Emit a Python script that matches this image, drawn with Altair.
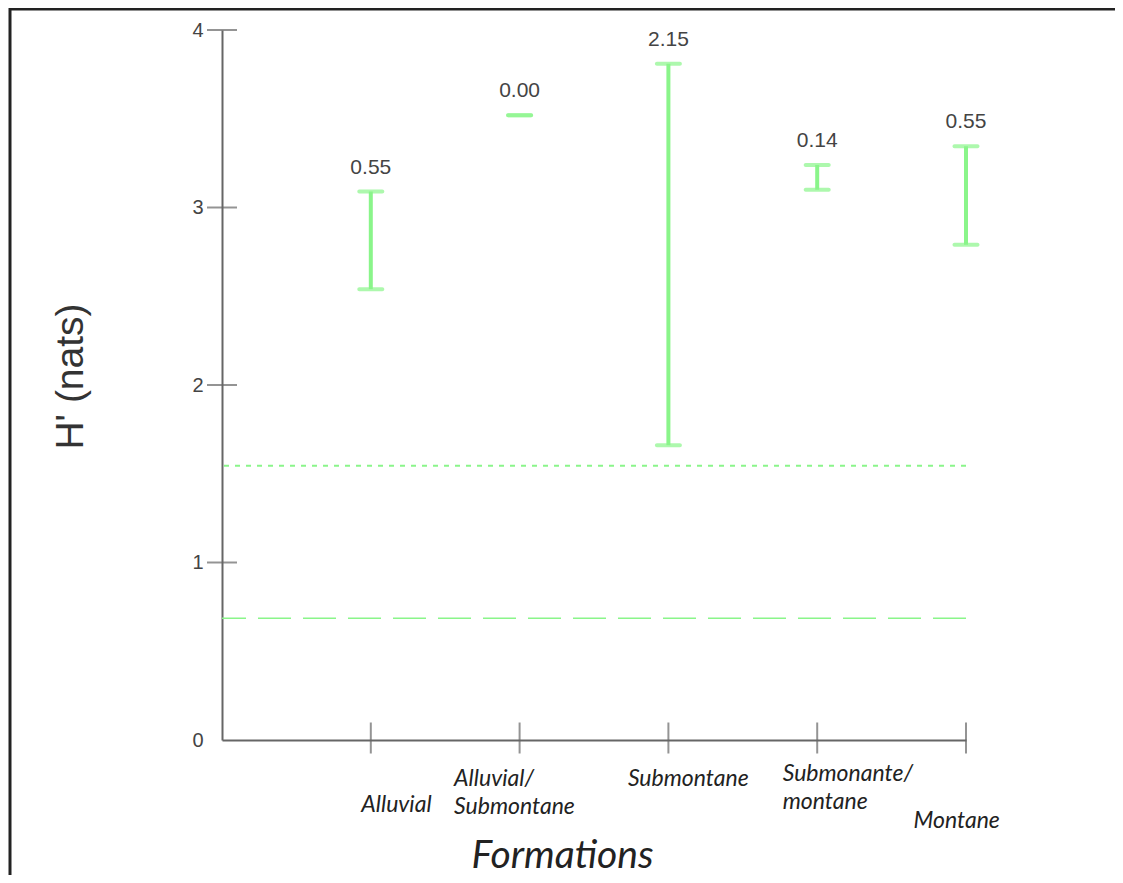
import json
import altair as alt
import pandas as pd

# ---- data ----
categories = ["Alluvial", "Alluvial/Submontane", "Submontane", "Submonante/montane", "Montane"]
lower = [2.54, 3.52, 1.66, 3.10, 2.79]
upper = [3.09, 3.52, 3.81, 3.24, 3.345]
range_labels = ["0.55", "0.00", "2.15", "0.14", "0.55"]
y_tick_values = [0, 1, 2, 3, 4]
ref_dotted = [1.545]
ref_dashed = [0.686]

positions = list(range(1, len(categories) + 1))
df = pd.DataFrame({"pos": positions, "cat": categories, "lo": lower, "hi": upper, "lab": range_labels})
df_dotted = pd.DataFrame({"v": ref_dotted})
df_dashed = pd.DataFrame({"v": ref_dashed})
df_yt = pd.DataFrame({"v": [v for v in y_tick_values if v > 0]})

# category labels as (multi-line) arrays for labelExpr
def split_label(s):
    if "/" in s:
        a, b = s.split("/", 1)
        return [a + "/", b]
    return s

label_list = json.dumps([split_label(c) for c in categories])

GREEN = "#8af58a"
AXIS = "#666666"
W, H = 744, 710

xscale = alt.Scale(domain=[0, 5], nice=False, zero=False)
yscale = alt.Scale(domain=[0, 4], nice=False, zero=True)

x_axis = alt.Axis(
    values=positions,
    labelExpr=f"{label_list}[datum.value - 1]",
    ticks=False,
    domainColor=AXIS,
    domainWidth=2,
    grid=False,
    labelAlign="left",
    labelBaseline="top",
    labelOffset={"expr": "[-10, -66, -41, -35, -53][datum.value - 1]"},
    labelPadding={"expr": "[53, 27, 27, 22, 69][datum.value - 1]"},
    labelFont="Lato",
    labelFontStyle="italic",
    labelFontSize=23,
    labelLineHeight=28,
    labelColor="#222",
    labelOverlap=False,
    labelFlush=False,
    labelBound=False,
    title="Formations",
    titleFont="Lato",
    titleFontStyle="italic",
    titleFontWeight="normal",
    titleFontSize=39,
    titleColor="#222",
    titleX=340,
    titleY=127,
    titleBaseline="alphabetic",
    titleAlign="center",
)

y_axis = alt.Axis(
    values=y_tick_values,
    format="d",
    ticks=False,
    domainColor=AXIS,
    domainWidth=2,
    grid=False,
    labelPadding=19,
    labelFont="Liberation Sans",
    labelFontSize=20,
    labelColor="#444",
    labelOverlap=False,
    title="H' (nats)",
    titleFont="Liberation Sans",
    titleFontWeight="normal",
    titleFontSize=39,
    titleColor="#333",
    titleX=-152,
    titleY=346,
    titleAngle=270,
    titleBaseline="middle",
    titleAlign="center",
)

base = alt.Chart(df)

bars = base.mark_rule(color=GREEN, strokeWidth=4).encode(
    x=alt.X("pos:Q", scale=xscale, axis=x_axis),
    y=alt.Y("lo:Q", scale=yscale, axis=y_axis),
    y2="hi:Q",
)

cap_lo = base.mark_tick(color=GREEN, thickness=4, size=27, orient="horizontal", cornerRadius=2).encode(
    x="pos:Q", y="lo:Q"
)
cap_hi = base.mark_tick(color=GREEN, thickness=4, size=27, orient="horizontal", cornerRadius=2).encode(
    x="pos:Q", y="hi:Q"
)

value_text = base.mark_text(
    font="Liberation Sans", fontSize=21, color="#444", baseline="alphabetic", dy=-18
).encode(x="pos:Q", y="hi:Q", text="lab:N")

x_ticks = base.mark_tick(color=AXIS, thickness=2, size=31, orient="vertical", yOffset=-2).encode(
    x="pos:Q", y=alt.datum(0)
)
y_ticks = alt.Chart(df_yt).mark_tick(color=AXIS, thickness=2, size=30, orient="horizontal").encode(
    x=alt.datum(0), y="v:Q"
)

dotted = alt.Chart(df_dotted).mark_rule(color=GREEN, strokeWidth=2, strokeDash=[5, 6]).encode(y="v:Q")
dashed = alt.Chart(df_dashed).mark_rule(color=GREEN, strokeWidth=1.5, strokeDash=[33, 12]).encode(y="v:Q")

# outer frame: only its left and top edges fall inside the picture
frame = alt.Chart(pd.DataFrame({"a": [0]})).mark_rect(filled=False, stroke="#222", strokeWidth=3).encode(
    x=alt.value(-212), x2=alt.value(960), y=alt.value(-21), y2=alt.value(900)
)

chart = alt.layer(
    frame, dotted, dashed, bars, cap_lo, cap_hi, value_text, x_ticks, y_ticks
).properties(
    width=W,
    height=H,
    background="white",
    padding={"left": 214, "top": 22, "right": 149, "bottom": 135},
    autosize=alt.AutoSizeParams(type="none"),
).configure_view(strokeWidth=0, stroke="transparent")

chart.save("out.html", embed_options={"renderer": "svg", "actions": False})
